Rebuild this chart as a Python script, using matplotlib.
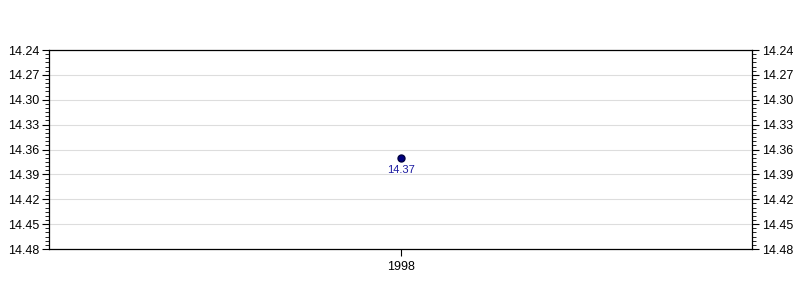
import matplotlib
matplotlib.use("Agg")
import numpy as np
import matplotlib.pyplot as plt
from matplotlib.ticker import FixedLocator, FormatStrFormatter

plt.rcParams['font.family'] = ['Liberation Sans', 'DejaVu Sans']

# Data
years = [1998]
values = [14.37]
labels = ['14.37']

# y axis scale (inverted)
y_top, y_bottom = 14.24, 14.48
major_ticks = [round(y_top + 0.03 * i, 2) for i in range(9)]
minor_ticks = [round(y_top + 0.005 * i, 3) for i in range(49)]

fig = plt.figure(figsize=(8, 3), dpi=100)
ax = fig.add_axes([49 / 800, 1 - 249 / 300, 703 / 800, 199 / 300])

ax.plot(years, values, 'o', color='#000080', markeredgecolor='#000040',
        markersize=5, zorder=3)
for x, v, t in zip(years, values, labels):
    ax.annotate(t, (x, v), xytext=(0, -5), textcoords='offset points',
                ha='center', va='top', color='#1a1aa0', fontsize=8)

ax.set_xlim(1998 - 0.5, 1998 + 0.5)
ax.set_xticks(years)
ax.set_ylim(y_bottom, y_top)
ax.yaxis.set_major_locator(FixedLocator(major_ticks))
ax.yaxis.set_minor_locator(FixedLocator(minor_ticks))
ax.yaxis.set_major_formatter(FormatStrFormatter('%.2f'))
ax.grid(axis='y', which='major', color='#dddddd', linewidth=0.8)
ax.set_axisbelow(True)

ax.tick_params(axis='y', which='both', left=True, right=True,
               labelleft=True, labelright=True, direction='out')
ax.tick_params(axis='y', which='major', length=5, labelsize=9, pad=2)
ax.tick_params(axis='y', which='minor', length=3)
ax.tick_params(axis='x', length=5, labelsize=9)
for s in ax.spines.values():
    s.set_linewidth(0.9)

fig.savefig('out.png', dpi=100)
